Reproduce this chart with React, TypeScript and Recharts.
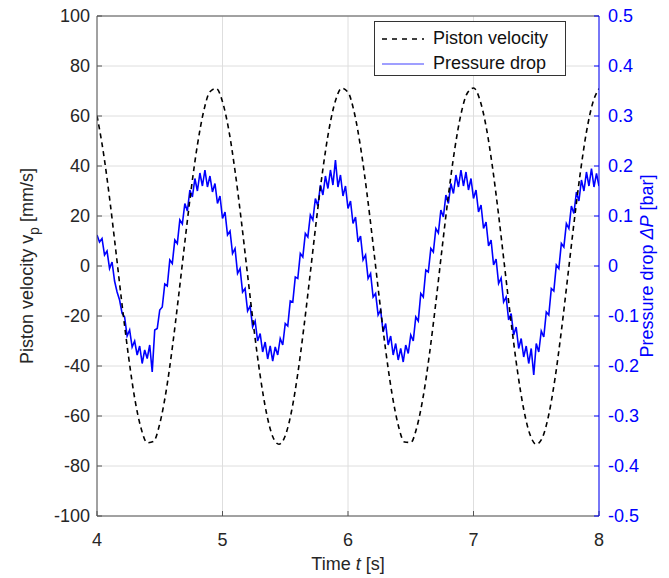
import React from 'react';
import {
  LineChart,
  Line,
  XAxis,
  YAxis,
  CartesianGrid,
  ReferenceLine,
  Legend,
} from 'recharts';

const FONT = '"Liberation Sans", Arial, sans-serif';
const AXIS_GRAY = '#555555';
const TEXT_GRAY = '#262626';
const GRID = '#dedede';
const BLUE = '#0000ff';

// axis ticks
const TIME_TICKS = [4, 5, 6, 7, 8];
const VEL_TICKS = [-100, -80, -60, -40, -20, 0, 20, 40, 60, 80, 100];
const DP_TICKS = [-0.5, -0.4, -0.3, -0.2, -0.1, 0, 0.1, 0.2, 0.3, 0.4, 0.5];

// piston velocity [mm/s], sampled every 0.05 s from t = 4 s
const VEL_T0 = 4;
const VEL_DT = 0.05;
const velocity = [
  60.1, 45.7, 27.2, 6.1, -15.6, -35.7, -52.8, -64.7, -70.7, -70.2,
  -63.1, -50.3, -32.7, -12.1, 9.6, 30.5, 48.4, 61.9, 69.7, 71.0,
  65.7, 54.4, 38.0, 18.1, -3.6, -24.9, -43.8, -58.7, -68.2, -71.3,
  -67.9, -58.1, -43.0, -23.9, -2.6, 19.1, 38.8, 55.0, 66.1, 71.1,
  69.5, 61.4, 47.6, 29.5, 8.6, -13.1, -33.6, -50.9, -63.6, -70.4,
  -70.6, -64.2, -52.0, -34.9, -14.6, 7.2, 28.2, 46.6, 60.7, 69.1,
  71.2, 66.6, 55.9, 40.0, 20.4, -1.2, -22.6, -41.9, -57.3, -67.4,
  -71.3, -68.5, -59.4, -44.8, -26.0, -4.7, 16.9, 36.9, 53.6, 65.2,
  70.9,
];

// pressure drop [bar], sampled every 0.02 s from t = 4 s
const DP_T0 = 4;
const DP_DT = 0.02;
const pressureDrop = [
  0.062, 0.048, 0.055, 0.022, 0.030, -0.005, 0.008, -0.030, -0.052, -0.068,
  -0.095, -0.102, -0.140, -0.128, -0.162, -0.150, -0.178, -0.160, -0.195, -0.168,
  -0.185, -0.158, -0.212, -0.128, -0.125, -0.088, -0.082, -0.036, -0.040, 0.012,
  0.005, 0.052, 0.045, 0.092, 0.084, 0.125, 0.110, 0.152, 0.138, 0.175,
  0.150, 0.186, 0.160, 0.192, 0.158, 0.180, 0.148, 0.165, 0.125, 0.140,
  0.095, 0.108, 0.062, 0.070, 0.025, 0.035, -0.015, -0.005, -0.052, -0.045,
  -0.090, -0.080, -0.122, -0.110, -0.150, -0.135, -0.172, -0.152, -0.186, -0.160,
  -0.190, -0.162, -0.178, -0.145, -0.158, -0.115, -0.120, -0.070, -0.072, -0.022,
  -0.025, 0.025, 0.018, 0.065, 0.058, 0.102, 0.092, 0.135, 0.120, 0.162,
  0.142, 0.180, 0.155, 0.192, 0.162, 0.212, 0.158, 0.182, 0.140, 0.160,
  0.115, 0.130, 0.085, 0.098, 0.048, 0.060, 0.012, 0.022, -0.025, -0.015,
  -0.062, -0.055, -0.098, -0.088, -0.132, -0.115, -0.158, -0.140, -0.178, -0.155,
  -0.188, -0.165, -0.192, -0.158, -0.175, -0.138, -0.150, -0.102, -0.110, -0.055,
  -0.062, -0.008, -0.012, 0.035, 0.028, 0.075, 0.066, 0.112, 0.098, 0.142,
  0.125, 0.165, 0.145, 0.182, 0.158, 0.192, 0.160, 0.188, 0.152, 0.175,
  0.135, 0.152, 0.108, 0.122, 0.075, 0.088, 0.040, 0.052, 0.002, 0.014,
  -0.035, -0.024, -0.072, -0.062, -0.108, -0.095, -0.138, -0.122, -0.165, -0.145,
  -0.182, -0.160, -0.195, -0.165, -0.218, -0.155, -0.172, -0.130, -0.142, -0.092,
  -0.098, -0.045, -0.050, 0.002, -0.005, 0.045, 0.038, 0.085, 0.075, 0.120,
  0.105, 0.148, 0.130, 0.172, 0.150, 0.188, 0.160, 0.195, 0.158, 0.185,
  0.160,
];

const velData = velocity.map((v, i) => ({ t: VEL_T0 + i * VEL_DT, v }));
const dpData = pressureDrop.map((p, i) => ({ t: DP_T0 + i * DP_DT, p }));

const tickStyle = { fill: TEXT_GRAY, fontSize: 18, fontFamily: FONT };

function LegendBox() {
  return (
    <div
      style={{
        width: 192,
        height: 55,
        boxSizing: 'border-box',
        border: '1px solid #333',
        background: '#fff',
        fontFamily: FONT,
        fontSize: 18,
        color: '#111',
        padding: '4px 0 0 6px',
        lineHeight: '25px',
      }}
    >
      <div style={{ display: 'flex', alignItems: 'center' }}>
        <svg width={44} height={10} style={{ marginRight: 8 }}>
          <line x1={1} y1={5} x2={43} y2={5} stroke="#000" strokeWidth={1.5} strokeDasharray="5 5" />
        </svg>
        Piston velocity
      </div>
      <div style={{ display: 'flex', alignItems: 'center' }}>
        <svg width={44} height={10} style={{ marginRight: 8 }}>
          <line x1={1} y1={5} x2={43} y2={5} stroke={BLUE} strokeOpacity={0.5} strokeWidth={1.5} />
        </svg>
        Pressure drop
      </div>
    </div>
  );
}

function LeftTitle({ viewBox }: any) {
  const cx = 33;
  const cy = viewBox.y + viewBox.height / 2;
  return (
    <text
      x={cx}
      y={cy}
      transform={`rotate(-90 ${cx} ${cy})`}
      textAnchor="middle"
      fontFamily={FONT}
      fontSize={18}
      fill={TEXT_GRAY}
    >
      Piston velocity v
      <tspan fontSize={14} dy={6}>p</tspan>
      <tspan dy={-6}> [mm/s]</tspan>
    </text>
  );
}

function RightTitle({ viewBox }: any) {
  const cx = 653;
  const cy = viewBox.y + viewBox.height / 2;
  return (
    <text
      x={cx}
      y={cy}
      transform={`rotate(-90 ${cx} ${cy})`}
      textAnchor="middle"
      fontFamily={FONT}
      fontSize={18}
      fill={BLUE}
    >
      Pressure drop <tspan fontStyle="italic">ΔP</tspan> [bar]
    </text>
  );
}

function BottomTitle({ viewBox }: any) {
  const cx = viewBox.x + viewBox.width / 2;
  return (
    <text x={cx} y={570} textAnchor="middle" fontFamily={FONT} fontSize={18} fill={TEXT_GRAY}>
      Time <tspan fontStyle="italic">t</tspan> [s]
    </text>
  );
}

const noLabel = () => <g />;

export default function App() {
  return (
    <div style={{ position: 'absolute', left: 0, top: 0, background: '#fff' }}>
      <LineChart width={669} height={578} margin={{ top: 16, right: 0, bottom: 0, left: 0 }}>
        <CartesianGrid xAxisId="bottom" yAxisId="left" stroke={GRID} />
        <XAxis
          xAxisId="bottom"
          dataKey="t"
          type="number"
          domain={[4, 8]}
          ticks={TIME_TICKS}
          allowDataOverflow
          height={62}
          stroke={AXIS_GRAY}
          tick={tickStyle}
          tickSize={-5}
          tickMargin={22}
          label={<BottomTitle />}
        />
        <XAxis
          xAxisId="top"
          orientation="top"
          dataKey="t"
          type="number"
          domain={[4, 8]}
          ticks={TIME_TICKS}
          height={0}
          stroke={AXIS_GRAY}
          tickSize={-5}
          tick={noLabel}
        />
        <YAxis
          yAxisId="left"
          type="number"
          domain={[-100, 100]}
          ticks={VEL_TICKS}
          width={97}
          stroke={AXIS_GRAY}
          tick={tickStyle}
          tickSize={-5}
          tickMargin={12}
          label={<LeftTitle />}
        />
        <YAxis
          yAxisId="right"
          orientation="right"
          type="number"
          domain={[-0.5, 0.5]}
          ticks={DP_TICKS}
          width={70}
          stroke={BLUE}
          tick={{ ...tickStyle, fill: BLUE }}
          tickFormatter={(v: number) => String(v)}
          tickSize={-5}
          tickMargin={14}
          label={<RightTitle />}
        />
        <ReferenceLine xAxisId="bottom" yAxisId="left" y={100} stroke={AXIS_GRAY} />
        <Line
          xAxisId="bottom"
          yAxisId="right"
          data={dpData}
          dataKey="p"
          type="linear"
          stroke={BLUE}
          strokeWidth={1.6}
          dot={false}
          isAnimationActive={false}
          name="Pressure drop"
        />
        <Line
          xAxisId="bottom"
          yAxisId="left"
          data={velData}
          dataKey="v"
          type="monotone"
          stroke="#000"
          strokeWidth={1.6}
          strokeDasharray="5 4"
          dot={false}
          isAnimationActive={false}
          name="Piston velocity"
        />
        <Legend
          layout="vertical"
          align="center"
          verticalAlign="middle"
          wrapperStyle={{ left: 374, top: 21, width: 192 }}
          content={() => <LegendBox />}
        />
      </LineChart>
    </div>
  );
}
